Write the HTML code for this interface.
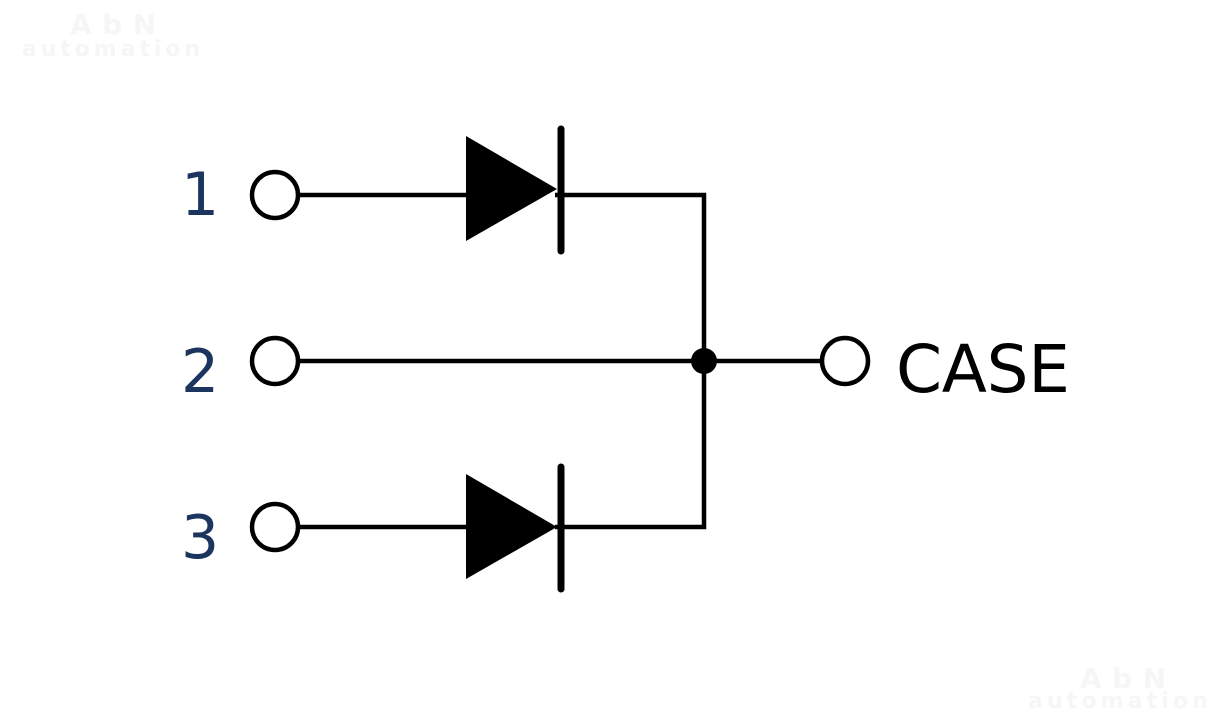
<!DOCTYPE html>
<html><head><meta charset="utf-8"><style>
html,body{margin:0;padding:0;background:#fff;}
svg{display:block;}
</style></head><body>
<svg width="1220" height="718" viewBox="0 0 1220 718" xmlns="http://www.w3.org/2000/svg">
<text x="70" y="34" font-family="DejaVu Sans, sans-serif" font-weight="bold" font-size="28" fill="#f6f6f6" textLength="86">AbN</text>
<text x="22" y="56" font-family="DejaVu Sans, sans-serif" font-weight="bold" font-size="22" fill="#f6f6f6" textLength="178">automation</text>
<text x="1080" y="688" font-family="DejaVu Sans, sans-serif" font-weight="bold" font-size="28" fill="#f6f6f6" textLength="86">AbN</text>
<text x="1028" y="708" font-family="DejaVu Sans, sans-serif" font-weight="bold" font-size="22" fill="#f6f6f6" textLength="180">automation</text>
<g stroke="#000" stroke-width="4.5" fill="none" stroke-linecap="butt">
<circle cx="275" cy="195" r="23"/>
<circle cx="275" cy="361" r="23"/>
<circle cx="275" cy="527" r="23"/>
<circle cx="845" cy="361" r="23"/>
<line x1="298" y1="195" x2="470" y2="195"/>
<polyline points="555,195 704,195 704,527 555,527"/>
<line x1="298" y1="361" x2="822" y2="361"/>
<line x1="298" y1="527" x2="470" y2="527"/>
<line x1="561" y1="129" x2="561" y2="251" stroke-width="7" stroke-linecap="round"/>
<line x1="561" y1="467" x2="561" y2="589" stroke-width="7" stroke-linecap="round"/>
</g>
<polygon points="466,136 466,241 557,189" fill="#000"/>
<polygon points="466,474 466,579 557,527" fill="#000"/>
<circle cx="704" cy="361" r="13" fill="#000"/>
<g font-family="DejaVu Sans, Verdana, sans-serif" font-size="60" fill="#1c355e">
<text x="181" y="215">1</text>
<text x="181" y="392">2</text>
<text x="181" y="558">3</text>
</g>
<text x="896" y="392" font-family="DejaVu Sans, Verdana, sans-serif" font-size="66" fill="#000" textLength="174">CASE</text>
</svg>
</body></html>
